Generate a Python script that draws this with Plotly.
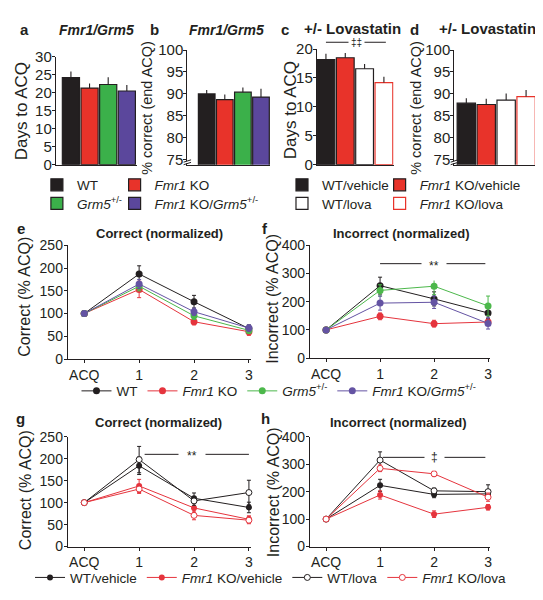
import plotly.graph_objects as go

W, H = 543, 600
DARK = "#231f20"
FONT = "Liberation Sans"

# ---------------- data ----------------
groups_ab = ["WT", "<i>Fmr1</i> KO", "<i>Grm5</i><sup>+/-</sup>", "<i>Fmr1</i> KO/<i>Grm5</i><sup>+/-</sup>"]
days_acq_ab = [24.2, 21.3, 22.3, 20.5]
days_acq_ab_err = [1.7, 1.3, 2.0, 1.7]
pct_correct_ab = [90.0, 88.7, 90.4, 89.3]
pct_correct_ab_err = [0.9, 1.2, 1.1, 1.9]

groups_cd = ["WT/vehicle", "<i>Fmr1</i> KO/vehicle", "WT/lova", "<i>Fmr1</i> KO/lova"]
days_acq_cd = [18.2, 18.5, 16.6, 14.2]
days_acq_cd_err = [1.0, 0.8, 0.8, 1.0]
pct_correct_cd = [87.9, 87.6, 88.6, 89.4]
pct_correct_cd_err = [1.1, 1.3, 1.5, 1.5]

sessions = ["ACQ", "1", "2", "3"]
session_pos = [0, 1, 2, 3]

# e: correct (normalized), genotypes
e_wt = [100, 187, 126, 67]
e_wt_err = [0, 18, 14, 8]
e_ko = [100, 153, 82, 60]
e_ko_err = [0, 18, 7, 8]
e_grm5 = [100, 160, 95, 63]
e_grm5_err = [0, 10, 8, 7]
e_dbl = [100, 165, 104, 68]
e_dbl_err = [0, 10, 8, 7]

# f: incorrect (normalized), genotypes
f_wt = [100, 257, 210, 160]
f_wt_err = [0, 30, 25, 20]
f_ko = [100, 148, 122, 128]
f_ko_err = [0, 12, 12, 10]
f_grm5 = [100, 240, 255, 185]
f_grm5_err = [0, 20, 30, 35]
f_dbl = [100, 195, 198, 123]
f_dbl_err = [0, 25, 22, 20]

# g: correct (normalized), lovastatin
g_wt_veh = [100, 184, 110, 89]
g_wt_veh_err = [0, 20, 12, 12]
g_ko_veh = [100, 138, 88, 62]
g_ko_veh_err = [0, 15, 10, 8]
g_wt_lova = [100, 198, 104, 123]
g_wt_lova_err = [0, 30, 10, 28]
g_ko_lova = [100, 131, 71, 60]
g_ko_lova_err = [0, 10, 10, 8]

# h: incorrect (normalized), lovastatin
h_wt_veh = [100, 223, 190, 192]
h_wt_veh_err = [0, 22, 12, 15]
h_ko_veh = [100, 188, 118, 143]
h_ko_veh_err = [0, 15, 12, 10]
h_wt_lova = [100, 315, 203, 200]
h_wt_lova_err = [0, 30, 10, 25]
h_ko_lova = [100, 285, 265, 180]
h_ko_lova_err = [0, 12, 10, 15]

# ---------------- styles ----------------
BAR_RED = "#e8332a"
BAR_GREEN = "#3bb04a"
BAR_PURPLE = "#5b479c"
LN_RED = "#e5343d"
LN_GREEN = "#4cb84b"
LN_PURPLE = "#6453a3"


def xd(a, b):
    return [a / W, b / W]


def yd(top, bottom):
    return [1 - bottom / H, 1 - top / H]


fig = go.Figure()

axis_base = dict(showline=True, linecolor=DARK, linewidth=1.1, showgrid=False,
                 zeroline=False, fixedrange=True, ticks="outside", ticklen=3,
                 tickwidth=1, tickcolor=DARK,
                 tickfont=dict(size=14, color=DARK, family=FONT))

layout_axes = {}
bar_specs = [
    ("", xd(48, 129), yd(41, 152), [-0.81, 3.52], [0, 30], 5),
    ("2", xd(180, 263), yd(34, 152), [-1.07, 3.5], [73.9, 100], 5),
    ("3", xd(310, 387), yd(33, 152), [-0.47, 3.5], [0, 20], 5),
    ("4", xd(448, 530), yd(34, 152), [-0.6, 3.5], [73.9, 100], 5),
]
for suf, xdom, ydom, xr, yr, dt in bar_specs:
    layout_axes["xaxis" + suf] = dict(axis_base, domain=xdom, range=xr,
                                      anchor="y" + suf, ticks="", showticklabels=False)
    ya = dict(axis_base, domain=ydom, range=yr, anchor="x" + suf, dtick=dt,
              ticklabelstandoff=-3, tickfont=dict(size=15, color=DARK, family=FONT))
    if yr[0] > 0:
        ya.update(tickvals=[75, 80, 85, 90, 95, 100])
    layout_axes["yaxis" + suf] = ya

line_specs = [
    ("5", xd(60, 244), yd(235, 352), [0, 250], 50),
    ("6", xd(303, 484), yd(235, 351), [0, 400], 100),
    ("7", xd(60, 244), yd(432, 545), [0, 250], 50),
    ("8", xd(303, 484), yd(432, 545), [0, 400], 100),
]
for suf, xdom, ydom, yr, dt in line_specs:
    layout_axes["xaxis" + suf] = dict(axis_base, domain=xdom, range=[-0.3, 3.04],
                                      anchor="y" + suf, tickvals=session_pos,
                                      ticktext=sessions)
    layout_axes["yaxis" + suf] = dict(axis_base, domain=ydom, range=yr,
                                      anchor="x" + suf, dtick=dt, ticklabelstandoff=-2)


def add_bars(vals, errs, names, styles, xa, ya, legends):
    for i, (v, e, n, st) in enumerate(zip(vals, errs, names, styles)):
        fill, edge = st
        fig.add_trace(go.Bar(
            x=[i], y=[v], width=0.92, name=n,
            marker=dict(color=fill, line=dict(color=edge, width=1.2)),
            error_y=dict(type="data", array=[e], arrayminus=[0], symmetric=False,
                         thickness=1.1, width=0, color=DARK),
            xaxis=xa, yaxis=ya,
            showlegend=legends is not None,
            legend=(legends[i] if legends else None),
        ))


styles_ab = [(DARK, DARK), (BAR_RED, DARK), (BAR_GREEN, DARK), (BAR_PURPLE, DARK)]
styles_cd = [(DARK, DARK), (BAR_RED, DARK), ("white", DARK), ("white", BAR_RED)]

add_bars(days_acq_ab, days_acq_ab_err, groups_ab, styles_ab, "x", "y",
         ["legend", "legend2", "legend3", "legend4"])
add_bars(pct_correct_ab, pct_correct_ab_err, groups_ab, styles_ab, "x2", "y2", None)
add_bars(days_acq_cd, days_acq_cd_err, groups_cd, styles_cd, "x3", "y3",
         ["legend5", "legend6", "legend7", "legend8"])
add_bars(pct_correct_cd, pct_correct_cd_err, groups_cd, styles_cd, "x4", "y4", None)


def add_line(vals, errs, name, color, xa, ya, leg, open_marker=False, size=7):
    fig.add_trace(go.Scatter(
        x=session_pos, y=vals, name=name, mode="lines+markers",
        line=dict(color=color, width=1),
        marker=dict(size=size, color="white" if open_marker else color,
                    line=dict(color=color, width=1 if open_marker else 0)),
        error_y=dict(type="data", array=errs, thickness=1, width=2, color=color),
        xaxis=xa, yaxis=ya, cliponaxis=False,
        showlegend=leg is not None, legend=leg,
    ))


geno_names = ["WT", "<i>Fmr1</i> KO", "<i>Grm5</i><sup>+/-</sup>",
              "<i>Fmr1</i> KO/<i>Grm5</i><sup>+/-</sup>"]
geno_colors = [DARK, LN_RED, LN_GREEN, LN_PURPLE]
for vals, errs, nm, col in zip([e_wt, e_ko, e_grm5, e_dbl],
                               [e_wt_err, e_ko_err, e_grm5_err, e_dbl_err],
                               geno_names, geno_colors):
    add_line(vals, errs, nm, col, "x5", "y5", "legend9")
for vals, errs, nm, col in zip([f_wt, f_ko, f_grm5, f_dbl],
                               [f_wt_err, f_ko_err, f_grm5_err, f_dbl_err],
                               geno_names, geno_colors):
    add_line(vals, errs, nm, col, "x6", "y6", None)

lova_names = ["WT/vehicle", "<i>Fmr1</i> KO/vehicle", "WT/lova", "<i>Fmr1</i> KO/lova"]
lova_colors = [DARK, LN_RED, DARK, LN_RED]
lova_open = [False, False, True, True]
for vals, errs, nm, col, op in zip([g_wt_veh, g_ko_veh, g_wt_lova, g_ko_lova],
                                   [g_wt_veh_err, g_ko_veh_err, g_wt_lova_err, g_ko_lova_err],
                                   lova_names, lova_colors, lova_open):
    add_line(vals, errs, nm, col, "x7", "y7", "legend10", op, size=6)
for vals, errs, nm, col, op in zip([h_wt_veh, h_ko_veh, h_wt_lova, h_ko_lova],
                                   [h_wt_veh_err, h_ko_veh_err, h_wt_lova_err, h_ko_lova_err],
                                   lova_names, lova_colors, lova_open):
    add_line(vals, errs, nm, col, "x8", "y8", None, op, size=6)

# ---------------- annotations ----------------
ann = []


def txt(text, x, y, size, bold=False, angle=0, xanchor="center", color=DARK):
    if bold:
        text = "<b>" + text + "</b>"
    ann.append(dict(text=text, x=x / W, y=1 - y / H, xref="paper", yref="paper",
                    showarrow=False, xanchor=xanchor, yanchor="middle",
                    textangle=angle, font=dict(size=size, color=color, family=FONT)))


for letter, x, y in [("a", 17, 13), ("b", 147, 13), ("c", 278, 13), ("d", 408, 13),
                     ("e", 13, 218), ("f", 258, 218), ("g", 13, 413), ("h", 258, 413)]:
    txt(letter, x, y, 15, bold=True)

txt("<i>Fmr1/Grm5</i>", 89, 13, 14, bold=True)
txt("<i>Fmr1/Grm5</i>", 219, 13, 14, bold=True)
txt("+/- Lovastatin", 346, 12, 15, bold=True)
txt("+/- Lovastatin", 481, 12, 15, bold=True)

txt("Days to ACQ", 13, 97, 17, angle=-90)
txt("% correct (end ACQ)", 140, 93, 14.5, angle=-90)
txt("Days to ACQ", 283, 96, 17, angle=-90)
txt("% correct (end ACQ)", 410, 93, 14.5, angle=-90)

txt("Correct (normalized)", 152, 223, 13, bold=True)
txt("Incorrect (normalized)", 395, 223, 13, bold=True)
txt("Correct (normalized)", 151, 417, 13, bold=True)
txt("Incorrect (normalized)", 392, 417, 13, bold=True)

txt("Correct (% ACQ)", 17, 288, 16, angle=-90)
txt("Incorrect (% ACQ)", 266, 290, 16, angle=-90)
txt("Correct (% ACQ)", 17, 487, 16, angle=-90)
txt("Incorrect (% ACQ)", 266, 489, 16, angle=-90)

shapes = []


def sig(xa, ya, x0, x1, yv, xm, label, pad, size=12, yref_paper=False):
    yref = "paper" if yref_paper else ya
    shapes.append(dict(type="line", xref=xa, yref=yref, x0=x0, x1=x1, y0=yv, y1=yv,
                       line=dict(color=DARK, width=1)))
    ann.append(dict(text=label, x=xm, y=yv, xref=xa, yref=yref, showarrow=False,
                    xanchor="center", yanchor="middle", bgcolor="white", borderpad=pad,
                    yshift=-2 if "*" in label else 0,
                    font=dict(size=size, color=DARK, family=FONT)))


sig("x3", "y3", 0.0, 3.1, 1 - 26 / H, 1.6, "‡‡", 2, size=10, yref_paper=True)
sig("x6", "y6", 1.0, 2.95, 335, 2.0, "**", 7)
sig("x7", "y7", 1.1, 3.0, 210, 1.97, "**", 8)
sig("x8", "y8", 1.05, 2.95, 325, 2.0, "‡", 6)

# axis-break marks on b and d
for xa in ["x2", "x4"]:
    shapes.append(dict(type="rect", xref=xa + " domain", yref="paper",
                       x0=-0.03, x1=0.03, y0=1 - 150.6 / H, y1=1 - 148.4 / H,
                       fillcolor="white", line=dict(width=0)))
    for yc in [148.2, 150.8]:
        shapes.append(dict(type="line", xref=xa + " domain", yref="paper",
                           x0=-0.045, x1=0.045, y0=1 - (yc + 1.2) / H, y1=1 - (yc - 1.2) / H,
                           line=dict(color=DARK, width=1)))

leg_base = dict(orientation="h", xanchor="left", yanchor="middle",
                font=dict(size=13.5, color=DARK, family=FONT),
                bgcolor="rgba(0,0,0,0)", itemwidth=30, itemclick=False,
                itemdoubleclick=False, traceorder="normal")


def leg(xpx, ypx, **kw):
    return dict(leg_base, x=xpx / W, y=1 - ypx / H, **kw)


fig.update_layout(
    width=W, height=H, autosize=False,
    margin=dict(l=0, r=0, t=0, b=0),
    paper_bgcolor="white", plot_bgcolor="white",
    font=dict(family=FONT, color=DARK),
    barmode="overlay",
    annotations=ann, shapes=shapes,
    legend=leg(29, 173),
    legend2=leg(107, 173),
    legend3=leg(29, 192),
    legend4=leg(107, 192),
    legend5=leg(275, 173),
    legend6=leg(373, 173),
    legend7=leg(275, 192),
    legend8=leg(373, 192),
    legend9=leg(272, 385, xanchor="center"),
    legend10=leg(264, 577, xanchor="center"),
    showlegend=True,
    **layout_axes,
)

fig.write_html("out.html")
